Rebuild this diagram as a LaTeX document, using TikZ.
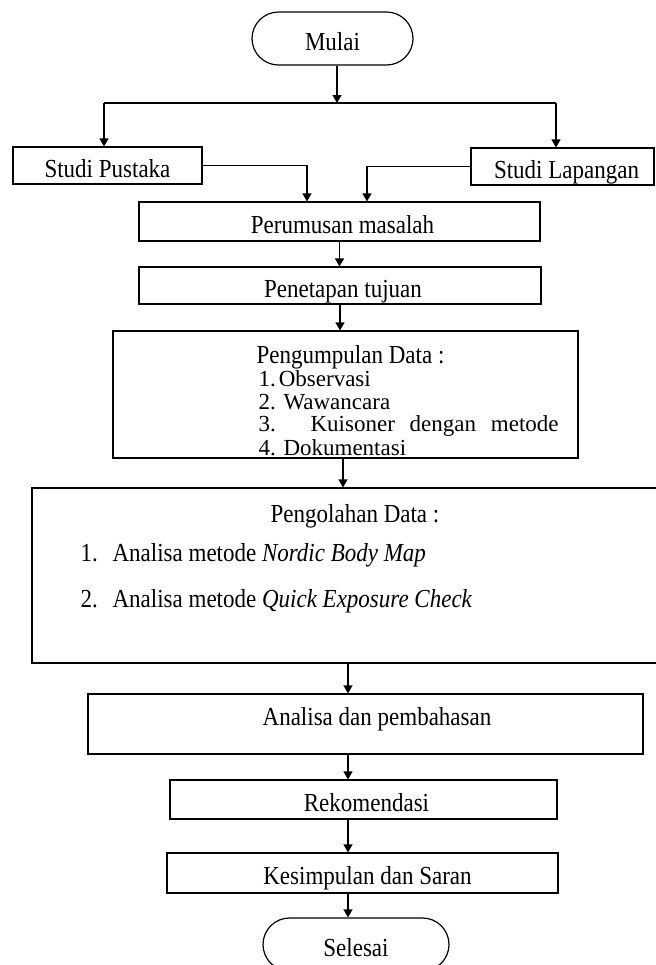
\documentclass[tikz,border=0pt]{standalone}
\usepackage{fontspec}
\setmainfont{Liberation Serif}
\usetikzlibrary{arrows.meta,shapes.misc}
\newcommand\vtxt[1]{\scalebox{1}[1.13]{#1}}
\begin{document}
\begin{tikzpicture}[x=0.5pt,y=-0.5pt,
  font=\fontsize{11.5pt}{11.5pt}\selectfont,
  line width=0.6pt,
  box/.style={draw, rectangle, inner sep=0pt, text height=11.5pt, text depth=0pt},
  capsule/.style={draw, rounded rectangle, inner sep=0pt, text height=11.5pt, text depth=0pt},
  arr/.style={-{Triangle[length=4pt,width=4.5pt]}},
  txt/.style={inner sep=0pt}]
\useasboundingbox (0,0) rectangle (656,965);
\clip (0,0) rectangle (656,965);

% boxes
\node[capsule, minimum width={161*0.5pt}, minimum height={53*0.5pt}] (mulai) at (332.5,38.5) {\vtxt{Mulai}};
\node[box, minimum width={189*0.5pt}, minimum height={37*0.5pt}] (pustaka) at (107.5,165.5) {\vtxt{Studi Pustaka}};
\node[box, minimum width={183*0.5pt}, minimum height={37*0.5pt}] (lapangan) at (562.5,166.5) {\hspace{4pt}\vtxt{Studi Lapangan}};
\node[box, minimum width={401*0.5pt}, minimum height={39*0.5pt}] (perumusan) at (339.5,221.5) {\hspace{3pt}\vtxt{Perumusan masalah}};
\node[box, minimum width={402*0.5pt}, minimum height={37*0.5pt}] (penetapan) at (340,285.5) {\hspace{3pt}\vtxt{Penetapan tujuan}};
\node[box, minimum width={465*0.5pt}, minimum height={127*0.5pt}] (pengumpulan) at (345.5,394.5) {};
\node[box, minimum width={630*0.5pt}, minimum height={175*0.5pt}] (pengolahan) at (347,575.5) {};
\node[box, minimum width={555*0.5pt}, minimum height={60*0.5pt}] (analisa) at (365.5,724) {};
\node[box, minimum width={387*0.5pt}, minimum height={39*0.5pt}] (rekomendasi) at (363.5,799.5) {\hspace{3pt}\vtxt{Rekomendasi}};
\node[box, minimum width={391*0.5pt}, minimum height={40*0.5pt}] (kesimpulan) at (362.5,873) {\hspace{5pt}\vtxt{Kesimpulan dan Saran}};
\node[capsule, minimum width={186*0.5pt}, minimum height={53*0.5pt}] (selesai) at (356,944.5) {\vtxt{Selesai}};

% texts inside large boxes
\node[txt, anchor=base west] (pg1) at (256,363) {\vtxt{Pengumpulan Data :}};
\node[txt, anchor=base west] (pg2) at (258,386) {1.\hspace{1.5pt}Observasi};
\node[txt, anchor=base west] (pg3) at (258,409) {2. Wawancara};
\node[txt, anchor=base west] (pg4) at (258,431) {\makebox[150pt][s]{3. Kuisoner dengan metode}};
\node[txt, anchor=base west] (pg5) at (258,455) {4. Dokumentasi};

\node[txt, anchor=base] (po1) at (355,522) {\vtxt{Pengolahan Data :}};
\node[txt, anchor=base west] (po2) at (80,561) {\vtxt{\makebox[16pt][l]{1.}Analisa metode \textit{Nordic Body Map}}};
\node[txt, anchor=base west] (po3) at (80,607) {\vtxt{\makebox[16pt][l]{2.}Analisa metode \textit{Quick Exposure Check}}};

\node[txt, anchor=base] (anT) at (377,725) {\vtxt{Analisa dan pembahasan}};

% helper coordinates
\coordinate (split) at (337,103);
\coordinate (hl) at (104,103);
\coordinate (hr) at (556,103);
\coordinate (jp) at (307,0);
\coordinate (jl) at (367,0);
\coordinate (c3) at (343,0);
\coordinate (spine) at (348,0);

% connectors
\draw[arr] (split |- mulai.south) -- (split);
\draw (hl) -- (hr);
\draw[arr] (hl) -- (hl |- pustaka.north);
\draw[arr] (hr) -- (hr |- lapangan.north);
\draw[arr] (pustaka.east) -| (jp |- perumusan.north);
\draw[arr] (lapangan.west) -| (jl |- perumusan.north);
\draw[arr] (perumusan.south) -- (perumusan.south |- penetapan.north);
\draw[arr] (penetapan.south) -- (penetapan.south |- pengumpulan.north);
\draw[arr] (c3 |- pengumpulan.south) -- (c3 |- pengolahan.north);
\draw[arr] (spine |- pengolahan.south) -- (spine |- analisa.north);
\draw[arr] (spine |- analisa.south) -- (spine |- rekomendasi.north);
\draw[arr] (spine |- rekomendasi.south) -- (spine |- kesimpulan.north);
\draw[arr] (spine |- kesimpulan.south) -- (spine |- selesai.north);
\end{tikzpicture}
\end{document}
